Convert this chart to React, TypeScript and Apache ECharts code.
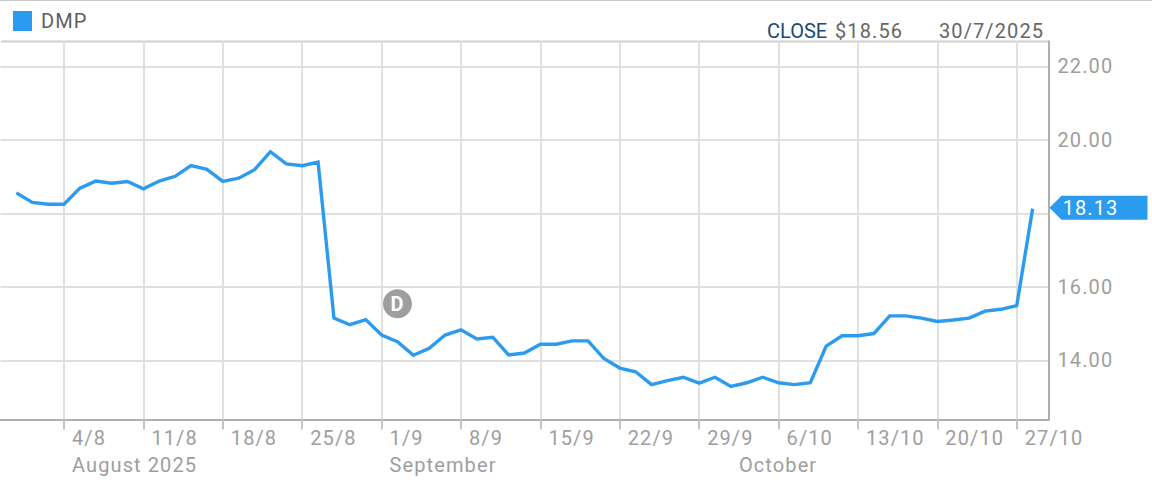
import React, { useEffect, useRef } from "react";
import * as echarts from "echarts";

const FONT = "Roboto";
const tradingDays = [
  "30/7","31/7","1/8",
  "4/8","5/8","6/8","7/8","8/8",
  "11/8","12/8","13/8","14/8","15/8",
  "18/8","19/8","20/8","21/8","22/8",
  "25/8","26/8","27/8","28/8","29/8",
  "1/9","2/9","3/9","4/9","5/9",
  "8/9","9/9","10/9","11/9","12/9",
  "15/9","16/9","17/9","18/9","19/9",
  "22/9","23/9","24/9","25/9","26/9",
  "29/9","30/9","1/10","2/10","3/10",
  "6/10","7/10","8/10","9/10","10/10",
  "13/10","14/10","15/10","16/10","17/10",
  "20/10","21/10","22/10","23/10","24/10",
  "27/10","28/10",
];
const prices = [
  18.56,18.30,18.25,
  18.25,18.69,18.88,18.82,18.87,
  18.67,18.88,19.01,19.30,19.20,
  18.87,18.96,19.19,19.68,19.35,
  19.30,19.40,15.15,14.97,15.11,
  14.69,14.51,14.14,14.33,14.69,
  14.83,14.58,14.63,14.15,14.20,
  14.44,14.44,14.53,14.53,14.05,
  13.79,13.69,13.34,13.45,13.54,
  13.38,13.54,13.29,13.39,13.54,
  13.39,13.34,13.39,14.39,14.67,
  14.67,14.73,15.21,15.21,15.15,
  15.06,15.10,15.15,15.34,15.39,
  15.49,18.13,
];
const weekStarts = ["4/8","11/8","18/8","25/8","1/9","8/9","15/9","22/9","29/9","6/10","13/10","20/10","27/10"];
const monthLabels: Record<string, string> = { "4/8": "August 2025", "1/9": "September", "1/10": "October" };
const yGridValues = [14, 16, 18, 20, 22];
const yLabelValues = [14, 16, 20, 22];
const yMin = 12.39;
const yMax = 22.68;
const lastPrice = 18.13;
const dividendDay = "2/9";
const dividendLevel = 15.54;

const categories = ["", ...tradingDays, " "];
const seriesData = [null, ...prices, null];

const BLUE = "#2b9bf0";
const GRID = "#e0e0e0";
const AXIS = "#aeaeae";
const LABEL = "#9e9e9e";

export default function App() {
  const ref = useRef<HTMLDivElement>(null);
  useEffect(() => {
    document.body.style.margin = "0";
    const chart = echarts.init(ref.current!, undefined, { renderer: "svg" });
    const isWeek = (_: number, v: string) => weekStarts.includes(v);
    chart.setOption({
      animation: false,
      textStyle: { fontFamily: FONT },
      grid: { left: 0.5, right: 103.5, top: 41.5, bottom: 64.5, containLabel: false },
      legend: {
        show: true,
        left: 13,
        top: 11,
        padding: 0,
        itemWidth: 19,
        itemHeight: 20,
        itemGap: 8,
        icon: "rect",
        textStyle: { fontFamily: FONT, fontSize: 20, color: "#5f5f5f", padding: [2, 0, 0, 4] },
        data: ["DMP"],
      },
      xAxis: [
        {
          type: "category",
          boundaryGap: false,
          data: categories,
          axisLine: { show: true, lineStyle: { color: AXIS, width: 2 } },
          axisTick: { show: true, interval: isWeek, length: 10, lineStyle: { color: "#c4c4c4", width: 2 } },
          splitLine: { show: true, interval: isWeek, lineStyle: { color: GRID, width: 2 } },
          axisLabel: {
            show: true,
            interval: isWeek,
            align: "left",
            margin: 8,
            padding: [0, 0, 0, 8],
            hideOverlap: false,
            fontFamily: FONT,
            fontSize: 20,
            color: LABEL,
          },
        },
        {
          type: "category",
          boundaryGap: false,
          data: categories,
          position: "bottom",
          axisLine: { show: false },
          axisTick: { show: false },
          splitLine: { show: false },
          axisLabel: {
            show: true,
            interval: (_: number, v: string) => v in monthLabels,
            formatter: (v: string) => monthLabels[v] ?? "",
            align: "left",
            margin: 35,
            padding: [0, 0, 0, 8],
            hideOverlap: false,
            fontFamily: FONT,
            fontSize: 20,
            color: LABEL,
          },
        },
      ],
      yAxis: {
        type: "value",
        position: "right",
        min: yMin,
        max: yMax,
        axisLine: { show: true, onZero: false, lineStyle: { color: AXIS, width: 2 } },
        axisTick: { show: false, customValues: yGridValues },
        splitLine: { show: true, lineStyle: { color: GRID, width: 2 } },
        axisLabel: {
          show: true,
          customValues: yLabelValues,
          margin: 9,
          padding: [0, 0, 8, 0],
          formatter: (v: number) => v.toFixed(2),
          fontFamily: FONT,
          fontSize: 20,
          color: LABEL,
        },
      },
      series: [
        {
          name: "DMP",
          type: "line",
          data: seriesData,
          showSymbol: false,
          symbol: "none",
          itemStyle: { color: BLUE },
          lineStyle: { color: BLUE, width: 3.4, join: "miter" },
          markPoint: {
            animation: false,
            data: [
              {
                coord: [categories.length - 1, lastPrice],
                symbol: "path://M0 12 L12 0 L98 0 L98 24 L12 24 Z",
                symbolSize: [98, 24],
                symbolKeepAspect: false,
                symbolOffset: [50, -1],
                itemStyle: { color: BLUE },
                label: {
                  show: true,
                  position: "inside",
                  formatter: lastPrice.toFixed(2),
                  fontFamily: FONT,
                  fontSize: 20,
                  color: "#ffffff",
                  offset: [-8, 0],
                },
              },
              {
                coord: [dividendDay, dividendLevel],
                symbol: "circle",
                symbolSize: 29,
                itemStyle: { color: "#9e9e9e" },
                label: {
                  show: true,
                  position: "inside",
                  formatter: "D",
                  fontFamily: FONT,
                  fontWeight: "bold",
                  fontSize: 20,
                  color: "#ffffff",
                },
              },
            ],
          },
        },
      ],
      graphic: [
        { type: "line", silent: true, shape: { x1: 0, y1: 0.5, x2: 1152, y2: 0.5 }, style: { stroke: "#c8c8c8", lineWidth: 1 } },
        { type: "line", silent: true, shape: { x1: 1, y1: 41.5, x2: 1049, y2: 41.5 }, style: { stroke: "#cfcfcf", lineWidth: 2 } },
        { type: "text", x: 767, y: 31, style: { text: "CLOSE", font: `20px ${FONT}`, fill: "#1b4a72", verticalAlign: "middle" } },
        { type: "text", x: 835, y: 31, style: { text: "$18.56", font: `20px ${FONT}`, fill: "#666666", verticalAlign: "middle" } },
        { type: "text", x: 939, y: 31, style: { text: "30/7/2025", font: `20px ${FONT}`, fill: "#666666", verticalAlign: "middle" } },
      ],
    });
    return () => chart.dispose();
  }, []);
  return (
    <>
      <style>{`#chart-root svg text { letter-spacing: 1.1px; } #chart-root svg text[fill="#1b4a72"] { letter-spacing: 0; }`}</style>
      <div id="chart-root" ref={ref} style={{ width: 1152, height: 484 }} />
    </>
  );
}
